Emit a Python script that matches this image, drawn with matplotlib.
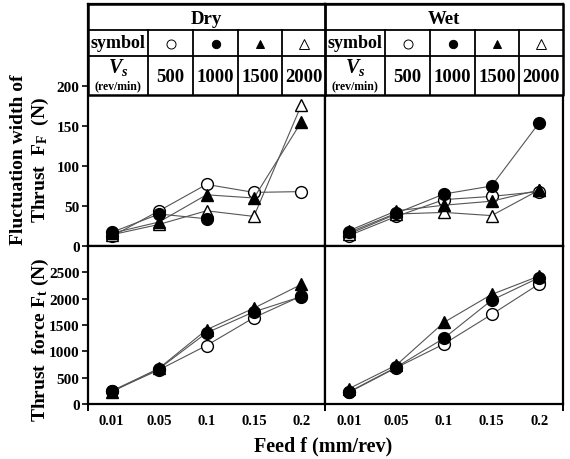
import numpy as np
import matplotlib.pyplot as plt
from matplotlib.patches import Rectangle

plt.rcParams['font.family'] = ['Liberation Serif', 'DejaVu Serif']
plt.rcParams['font.weight'] = 'bold'
plt.rcParams['mathtext.fontset'] = 'custom'
plt.rcParams['mathtext.rm'] = 'Liberation Serif:bold'
plt.rcParams['mathtext.it'] = 'Liberation Serif:bold:italic'
plt.rcParams['mathtext.bf'] = 'Liberation Serif:bold'

feeds = ['0.01', '0.05', '0.1', '0.15', '0.2']
speeds = [500, 1000, 1500, 2000]

# fluctuation width of thrust F_F (N)
dry_fluct_500 = [12, 44, 77, 67, 68]
dry_fluct_1000 = [17, 40, 34, np.nan, np.nan]
dry_fluct_1500 = [16, 30, 64, 60, 155]
dry_fluct_2000 = [14, 27, 44, 37, 176]

wet_fluct_500 = [13, 37, 58, 62, 68]
wet_fluct_1000 = [17, 41, 65, 75, 154]
wet_fluct_1500 = [19, 44, 51, 56, 70]
wet_fluct_2000 = [15, 40, 42, 38, 70]

# thrust force F_t (N)
dry_thrust_500 = [240, 650, 1110, 1640, 2050]
dry_thrust_1000 = [250, 670, 1350, 1750, 2040]
dry_thrust_1500 = [230, 680, 1410, 1820, 2270]
dry_thrust_2000 = [200, 640, 1290, 1720, 1990]

wet_thrust_500 = [220, 690, 1140, 1700, 2280]
wet_thrust_1000 = [230, 700, 1250, 1970, 2400]
wet_thrust_1500 = [290, 740, 1550, 2080, 2430]

styles = {
    500: dict(marker='o', mfc='white'),
    1000: dict(marker='o', mfc='black'),
    1500: dict(marker='^', mfc='black'),
    2000: dict(marker='^', mfc='white'),
}
draw_order = [500, 2000, 1500, 1000]

W, H = 570, 460
fig = plt.figure(figsize=(W / 100, H / 100), dpi=100)


def px_axes(x0, y0, x1, y1, **kw):
    return fig.add_axes([x0 / W, 1 - y1 / H, (x1 - x0) / W, (y1 - y0) / H], **kw)


def panel(ax, series, ylim, yticks, show_y, show_x):
    x = np.arange(len(feeds))
    for sp in draw_order:
        vals = series.get(sp)
        if vals is None:
            continue
        st = styles[sp]
        ax.plot(x, vals, color='#555555', lw=0.8, marker=st['marker'],
                mfc=st['mfc'], mec='black', mew=1.0, ms=8.5 if st['marker'] == 'o' else 9,
                zorder=3 if st['mfc'] == 'white' else 4)
    ax.set_xlim(-0.5, len(feeds) - 0.5)
    ax.set_ylim(*ylim)
    ax.set_yticks(yticks)
    for s in ax.spines.values():
        s.set_linewidth(1.6)
    ax.set_xticks(x)
    ax.set_xticks([-0.5, len(feeds) - 0.5], minor=True)
    ax.tick_params(axis='x', which='major', length=0, pad=7, labelsize=10.5)
    ax.tick_params(axis='x', which='minor', length=5, width=1.4, direction='out')
    if show_x:
        ax.set_xticklabels(feeds)
    else:
        ax.set_xticklabels([])
    if show_y:
        ax.tick_params(axis='y', length=4, width=1.2, direction='out', labelsize=11, pad=2)
    else:
        ax.tick_params(axis='y', left=False, labelleft=False)


cols = [(88, 325), (325, 563)]
top_y = (5, 247)
bot_y = (247, 405)

fluct = [
    {500: dry_fluct_500, 1000: dry_fluct_1000, 1500: dry_fluct_1500, 2000: dry_fluct_2000},
    {500: wet_fluct_500, 1000: wet_fluct_1000, 1500: wet_fluct_1500, 2000: wet_fluct_2000},
]
thrust = [
    {500: dry_thrust_500, 1000: dry_thrust_1000, 1500: dry_thrust_1500},
    {500: wet_thrust_500, 1000: wet_thrust_1000, 1500: wet_thrust_1500},
]

for i, (x0, x1) in enumerate(cols):
    ax_t = px_axes(x0, top_y[0], x1, top_y[1])
    panel(ax_t, fluct[i], (0, 302.5), [0, 50, 100, 150, 200], i == 0, False)
    ax_b = px_axes(x0, bot_y[0], x1, bot_y[1])
    panel(ax_b, thrust[i], (0, 3000), [0, 500, 1000, 1500, 2000, 2500], i == 0, True)

# legend table drawn over the top of the upper panels
tab = px_axes(88, 5, 563, 96)
tab.set_xlim(88, 563)
tab.set_ylim(96, 5)
tab.set_axis_off()
tab.add_patch(Rectangle((88, 5), 475, 91, facecolor='white', edgecolor='none', zorder=0))

rows = [5, 31, 57, 96]
col_offsets = [0, 60, 105, 150, 194]
conditions = ['Dry', 'Wet']
for k, (x0, x1) in enumerate(cols):
    edges = [x0 + o for o in col_offsets] + [x1]
    tab.text((x0 + x1) / 2, (rows[0] + rows[1]) / 2 + 1, conditions[k],
             ha='center', va='center', fontsize=13.5)
    tab.text((edges[0] + edges[1]) / 2, (rows[1] + rows[2]) / 2, 'symbol',
             ha='center', va='center', fontsize=13)
    tab.text((edges[0] + edges[1]) / 2, 68, '$V_s$', ha='center', va='center', fontsize=14.5)
    tab.text((edges[0] + edges[1]) / 2, 86, '(rev/min)', ha='center', va='center', fontsize=8.5)
    for j, sp in enumerate(speeds):
        cx = (edges[j + 1] + edges[j + 2]) / 2
        st = styles[sp]
        tab.plot([cx], [(rows[1] + rows[2]) / 2 + 1], marker=st['marker'], mfc=st['mfc'],
                 mec='black', mew=0.7, ms=6 if st['mfc'] == 'black' else 6.5, ls='none')
        tab.text(cx, (rows[2] + rows[3]) / 2 + 1, str(sp), ha='center', va='center', fontsize=13.5)
    for e in edges[1:-1]:
        tab.plot([e, e], [rows[1], rows[3]], color='black', lw=1.3, clip_on=False)

for r in rows[1:3]:
    tab.plot([88, 563], [r, r], color='black', lw=1.3, clip_on=False)
tab.plot([88, 563, 563, 88, 88], [5, 5, 96, 96, 5], color='black', lw=1.8, clip_on=False)
tab.plot([325, 325], [5, 96], color='black', lw=2.0, clip_on=False)

fig.text(19 / W, 1 - 160 / H, 'Fluctuation width of', rotation=90,
         ha='center', va='center', fontsize=14)
fig.text(40 / W, 1 - 160 / H, 'Thrust  F$_\\mathrm{F}$  (N)', rotation=90,
         ha='center', va='center', fontsize=14)
fig.text(40 / W, 1 - 340 / H, 'Thrust  force F$_\\mathrm{t}$ (N)', rotation=90,
         ha='center', va='center', fontsize=14)
fig.text(323 / W, 1 - 446 / H, 'Feed f (mm/rev)', ha='center', va='center', fontsize=14.5)

fig.savefig('out.png', dpi=100, facecolor='white')
